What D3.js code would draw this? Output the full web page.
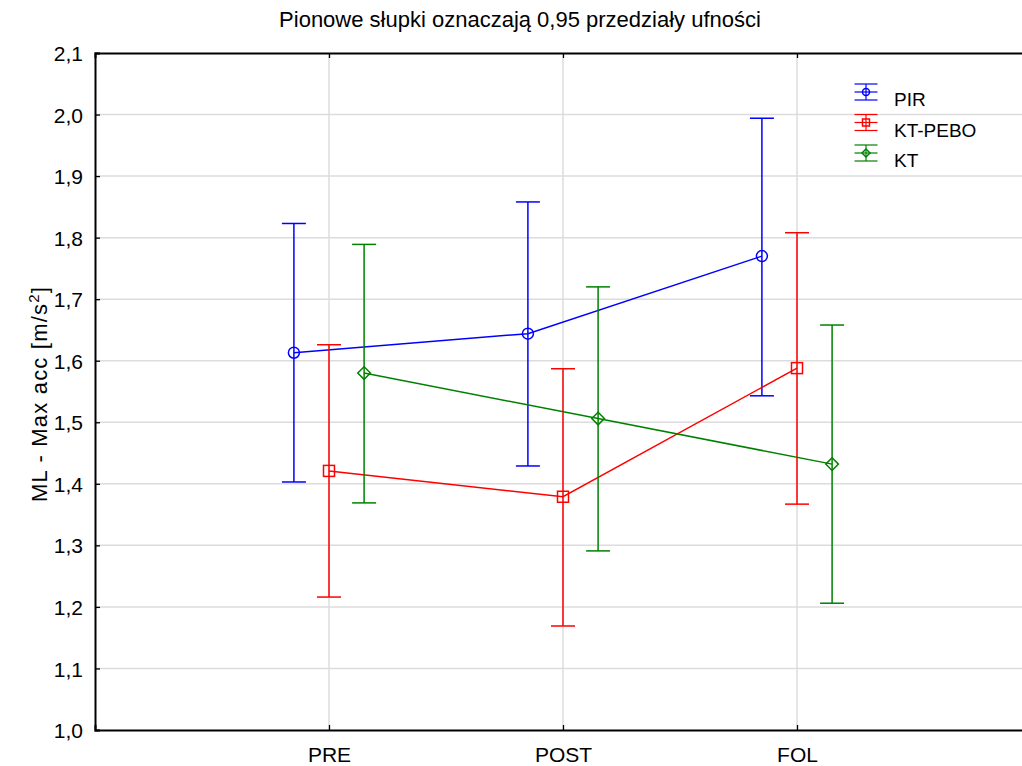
<!DOCTYPE html>
<html>
<head>
<meta charset="utf-8">
<script src="https://cdn.jsdelivr.net/npm/d3@7"></script>
<style>
  body { margin: 0; background: #fff; }
  text { font-family: "Liberation Sans", Arial, sans-serif; fill: #000; }
</style>
</head>
<body>
<script>
'use strict';

// Data
const categories = ["PRE", "POST", "FOL"];
const seriesNames = ["PIR", "KT-PEBO", "KT"];
const yTicks = [1.0, 1.1, 1.2, 1.3, 1.4, 1.5, 1.6, 1.7, 1.8, 1.9, 2.0, 2.1];

const pirMean = [1.613, 1.644, 1.770];
const pirLow = [1.403, 1.429, 1.543];
const pirHigh = [1.823, 1.858, 1.994];

const ktpeboMean = [1.421, 1.379, 1.588];
const ktpeboLow = [1.216, 1.169, 1.367];
const ktpeboHigh = [1.626, 1.587, 1.808];

const ktMean = [1.580, 1.506, 1.432];
const ktLow = [1.369, 1.291, 1.206];
const ktHigh = [1.789, 1.720, 1.658];

const series = [
	{ name: seriesNames[0], mean: pirMean, low: pirLow, high: pirHigh, color: "#0000ff", shape: "circle", offset: -0.15 },
	{ name: seriesNames[1], mean: ktpeboMean, low: ktpeboLow, high: ktpeboHigh, color: "#ff0000", shape: "square", offset: 0 },
	{ name: seriesNames[2], mean: ktMean, low: ktLow, high: ktHigh, color: "#008000", shape: "diamond", offset: 0.15 }
];

const params = { width: 1022, height: 766, left: 95, top: 53, right: 1031, bottom: 730 };

const svg = d3.select("body").append("svg")
	.attr("width", params.width)
	.attr("height", params.height);

const xScale = d3.scaleLinear().domain([0, categories.length + 1]).range([params.left, params.right]);
const yScale = d3.scaleLinear().domain([1.0, 2.1]).range([params.bottom, params.top]);

// grid
const grid = svg.append("g").attr("stroke", "#dcdcdc").attr("stroke-width", 1.5);
grid.selectAll(".hg").data(yTicks.slice(1, -1)).enter().append("line")
	.attr("x1", params.left).attr("x2", params.right)
	.attr("y1", d => yScale(d)).attr("y2", d => yScale(d));
grid.selectAll(".vg").data(categories).enter().append("line")
	.attr("x1", (d, i) => xScale(i + 1)).attr("x2", (d, i) => xScale(i + 1))
	.attr("y1", params.top).attr("y2", params.bottom);

// axes (ticks inside)
const yAxis = svg.append("g")
	.attr("transform", `translate(${params.left},0)`)
	.call(d3.axisRight(yScale).tickValues(yTicks).tickSize(5).tickFormat(d => d3.format(".1f")(d).replace(".", ",")));
yAxis.selectAll("text").attr("x", -12).attr("dy", "0.36em").attr("text-anchor", "end").attr("font-size", 21);

const xAxis = svg.append("g")
	.attr("transform", `translate(0,${params.bottom})`)
	.call(d3.axisTop(xScale).tickValues([1, 2, 3]).tickSize(5).tickFormat(d => categories[d - 1]));
xAxis.selectAll("text").attr("y", 32).attr("dy", 0).attr("font-size", 21);

svg.append("g")
	.attr("transform", `translate(0,${params.top})`)
	.call(d3.axisBottom(xScale).tickValues([1, 2, 3]).tickSize(5).tickFormat(""));

svg.selectAll(".domain").attr("stroke", "#000").attr("stroke-width", 2);
svg.selectAll(".tick line").attr("stroke", "#000").attr("stroke-width", 1.3);

// symbols
const drawMarker = (g, shape, cx, cy, size, color) => {
	if (shape === "circle") {
		g.append("circle").attr("cx", cx).attr("cy", cy).attr("r", size)
			.attr("fill", "none").attr("stroke", color).attr("stroke-width", 1.5);
	} else if (shape === "square") {
		g.append("rect").attr("x", cx - size).attr("y", cy - size)
			.attr("width", 2 * size).attr("height", 2 * size)
			.attr("fill", "none").attr("stroke", color).attr("stroke-width", 1.5);
	} else {
		const s = size * 1.15;
		g.append("path").attr("d", `M${cx},${cy - s}L${cx + s},${cy}L${cx},${cy + s}L${cx - s},${cy}Z`)
			.attr("fill", "none").attr("stroke", color).attr("stroke-width", 1.5);
	}
};

const lineGen = d3.line()
	.x(d => xScale(d.x))
	.y(d => yScale(d.y));

series.forEach(s => {
	const g = svg.append("g");
	const pts = s.mean.map((m, i) => ({ x: i + 1 + s.offset, y: m }));
	g.append("path").attr("d", lineGen(pts))
		.attr("fill", "none").attr("stroke", s.color).attr("stroke-width", 1.5);
	s.mean.forEach((m, i) => {
		const cx = xScale(i + 1 + s.offset);
		g.append("line").attr("x1", cx).attr("x2", cx)
			.attr("y1", yScale(s.low[i])).attr("y2", yScale(s.high[i]))
			.attr("stroke", s.color).attr("stroke-width", 1.5);
		[s.low[i], s.high[i]].forEach(v => {
			g.append("line").attr("x1", cx - 12).attr("x2", cx + 12)
				.attr("y1", yScale(v)).attr("y2", yScale(v))
				.attr("stroke", s.color).attr("stroke-width", 1.5);
		});
		drawMarker(g, s.shape, cx, yScale(m), 5.5, s.color);
	});
});

// legend
const legend = svg.append("g").attr("transform", "translate(866,92)");
series.forEach((s, i) => {
	const g = legend.append("g").attr("transform", `translate(0,${i * 30.5})`);
	[-8, 0, 8].forEach(dy => {
		g.append("line").attr("x1", -11.5).attr("x2", 11.5).attr("y1", dy).attr("y2", dy)
			.attr("stroke", s.color).attr("stroke-width", 1.2);
	});
	g.append("line").attr("x1", 0).attr("x2", 0).attr("y1", -8).attr("y2", 8)
		.attr("stroke", s.color).attr("stroke-width", 1.2);
	drawMarker(g, s.shape, 0, 0, 3.5, s.color);
	g.append("text").attr("x", 28).attr("y", 14).attr("font-size", 19).text(s.name);
});

// title and labels
svg.append("text")
	.attr("x", 520).attr("y", 27)
	.attr("text-anchor", "middle").attr("font-size", 22)
	.text("Pionowe słupki oznaczają 0,95 przedziały ufności");

const yLabel = svg.append("text")
	.attr("transform", "translate(47,394) rotate(-90)")
	.attr("text-anchor", "middle").attr("font-size", 22)
	.attr("letter-spacing", 1.2);
yLabel.append("tspan").text("ML - Max acc [m/s");
yLabel.append("tspan").attr("font-size", 15).attr("dy", -8).text("2");
yLabel.append("tspan").attr("dy", 8).text("]");
</script>
</body>
</html>
